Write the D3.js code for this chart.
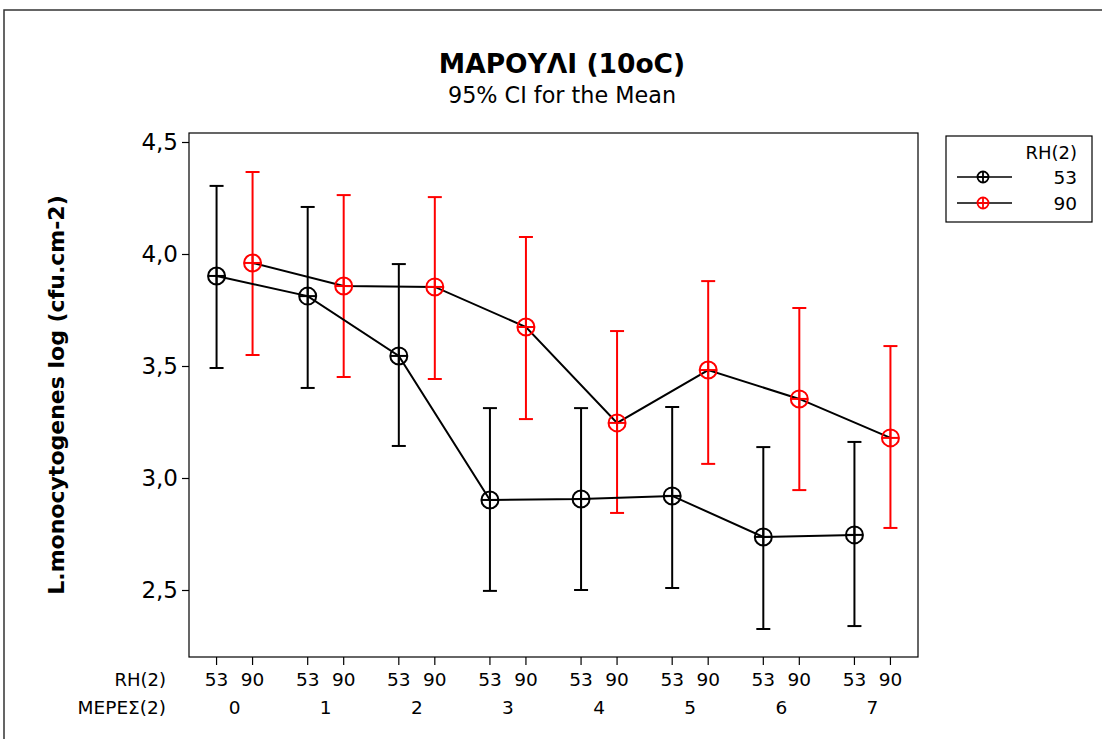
<!DOCTYPE html>
<html><head><meta charset="utf-8">
<script src="https://cdn.jsdelivr.net/npm/d3@7"></script>
<style>body{margin:0;background:#fff;} svg{display:block;} text{font-family:"DejaVu Sans",sans-serif;}</style>
</head><body>
<svg id="c" width="1102" height="739"></svg>
<script>
const days = ["0","1","2","3","4","5","6","7"];
const rhLevels = ["53","90"];
const mean53 = [3.902, 3.812, 3.545, 2.902, 2.906, 2.920, 2.737, 2.746];
const upper53 = [4.304, 4.210, 3.955, 3.312, 3.312, 3.317, 3.138, 3.161];
const lower53 = [3.491, 3.402, 3.143, 2.496, 2.500, 2.509, 2.326, 2.339];
const mean90 = [3.960, 3.857, 3.853, 3.674, 3.246, 3.482, 3.353, 3.179];
const upper90 = [4.366, 4.263, 4.254, 4.076, 3.656, 3.879, 3.759, 3.589];
const lower90 = [3.549, 3.451, 3.442, 3.263, 2.844, 3.063, 2.946, 2.777];
const yTicks = [2.5, 3.0, 3.5, 4.0, 4.5];

const series = [
  {rh:"53", color:"#000000", mean:mean53, up:upper53, lo:lower53},
  {rh:"90", color:"#ff0000", mean:mean90, up:upper90, lo:lower90}
];

const svg = d3.select("#c");
const L = 189, R = 918, T = 133, B = 657;

// outer border
svg.append("rect").attr("x",4).attr("y",10).attr("width",1200).attr("height",800)
  .attr("fill","none").attr("stroke","#333").attr("stroke-width",1.5);

const y = d3.scaleLinear().domain([2.5,4.5]).range([590,142]);
const xg = d3.scaleBand().domain(days).range([L,R]).padding(0);
const xs = d3.scalePoint().domain(rhLevels).range([-18,18]);
const px = (d,rh) => xg(d) + xg.bandwidth()/2 + xs(rh);

// frame
svg.append("rect").attr("x",L).attr("y",T).attr("width",R-L).attr("height",B-T)
  .attr("fill","none").attr("stroke","#000").attr("stroke-width",1.2);

// y axis
const yAxis = d3.axisLeft(y).tickValues(yTicks).tickSize(7).tickPadding(4)
  .tickFormat(d => d3.format(".1f")(d).replace(".",","));
const ga = svg.append("g").attr("transform",`translate(${L},0)`).call(yAxis);
ga.select(".domain").remove();
ga.selectAll("line").attr("stroke","#000").attr("stroke-width",1.2);
ga.selectAll("text").attr("font-size",23).attr("fill","#000");

// x ticks
days.forEach(d => rhLevels.forEach(rh => {
  svg.append("line").attr("x1",px(d,rh)).attr("x2",px(d,rh)).attr("y1",B).attr("y2",B+8)
    .attr("stroke","#000").attr("stroke-width",1.2);
  svg.append("text").attr("x",px(d,rh)).attr("y",686).attr("text-anchor","middle")
    .attr("font-size",18.5).text(rh);
}));
days.forEach(d => {
  svg.append("text").attr("x",xg(d)+xg.bandwidth()/2).attr("y",714).attr("text-anchor","middle")
    .attr("font-size",18.5).text(d);
});
svg.append("text").attr("x",166).attr("y",686).attr("text-anchor","end").attr("font-size",18).text("RH(2)");
svg.append("text").attr("x",166).attr("y",714).attr("text-anchor","end").attr("font-size",18.5).text("ΜΕΡΕΣ(2)");

// titles
svg.append("text").attr("x",562).attr("y",73).attr("text-anchor","middle")
  .attr("font-size",26.5).attr("font-weight","bold").text("ΜΑΡΟΥΛΙ (10oC)");
svg.append("text").attr("x",562).attr("y",103).attr("text-anchor","middle")
  .attr("font-size",22.3).text("95% CI for the Mean");
svg.append("text").attr("transform",`translate(64,${(T+B)/2}) rotate(-90)`).attr("text-anchor","middle")
  .attr("font-size",22).attr("font-weight","bold").text("L.monocytogenes log (cfu.cm-2)");

function marker(g, cx, cy, color){
  g.append("circle").attr("cx",cx).attr("cy",cy).attr("r",8.5).attr("fill","none")
    .attr("stroke",color).attr("stroke-width",2);
  g.append("line").attr("x1",cx-8.5).attr("x2",cx+8.5).attr("y1",cy).attr("y2",cy).attr("stroke",color).attr("stroke-width",2);
  g.append("line").attr("x1",cx).attr("x2",cx).attr("y1",cy-8.5).attr("y2",cy+8.5).attr("stroke",color).attr("stroke-width",2);
}

// error bars
series.forEach(s => {
  const g = svg.append("g");
  days.forEach((d,i) => {
    const cx = px(d,s.rh);
    g.append("line").attr("x1",cx).attr("x2",cx).attr("y1",y(s.up[i])).attr("y2",y(s.lo[i]))
      .attr("stroke",s.color).attr("stroke-width",2);
    [s.up[i], s.lo[i]].forEach(v => g.append("line").attr("x1",cx-7).attr("x2",cx+7)
      .attr("y1",y(v)).attr("y2",y(v)).attr("stroke",s.color).attr("stroke-width",2));
  });
});
// connecting lines
series.forEach(s => {
  const line = d3.line().x((v,i)=>px(days[i],s.rh)).y(v=>y(v));
  svg.append("path").attr("d",line(s.mean)).attr("fill","none").attr("stroke","#000").attr("stroke-width",2);
});
series.forEach(s => {
  const g = svg.append("g");
  days.forEach((d,i) => marker(g, px(d,s.rh), y(s.mean[i]), s.color));
});

// legend
const lg = svg.append("g");
lg.append("rect").attr("x",946).attr("y",136).attr("width",146).attr("height",86)
  .attr("fill","none").attr("stroke","#000").attr("stroke-width",1.2);
lg.append("text").attr("x",1077).attr("y",159).attr("text-anchor","end").attr("font-size",18).text("RH(2)");
series.forEach((s,k) => {
  const yy = 177 + k*26;
  lg.append("line").attr("x1",957).attr("x2",1012).attr("y1",yy).attr("y2",yy).attr("stroke","#000").attr("stroke-width",1.5);
  const g = lg.append("g");
  g.append("circle").attr("cx",983).attr("cy",yy).attr("r",5.5).attr("fill","none").attr("stroke",s.color).attr("stroke-width",1.8);
  g.append("line").attr("x1",983).attr("x2",983).attr("y1",yy-5.5).attr("y2",yy+5.5).attr("stroke",s.color).attr("stroke-width",1.8);
  g.append("line").attr("x1",977.5).attr("x2",988.5).attr("y1",yy).attr("y2",yy).attr("stroke",s.color).attr("stroke-width",1.8);
  lg.append("text").attr("x",1077).attr("y",yy+7).attr("text-anchor","end").attr("font-size",18.5).text(s.rh);
});
</script>
</body></html>
